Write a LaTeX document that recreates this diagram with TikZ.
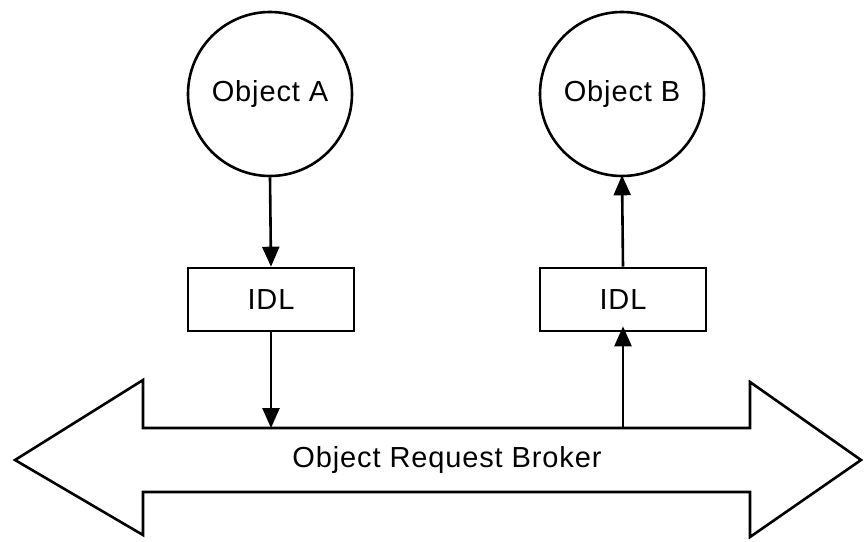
\documentclass[tikz,border=0pt]{standalone}
\usepackage{fontspec}
\setmainfont{Liberation Sans}[LetterSpace=3]
\usetikzlibrary{arrows.meta}
\begin{document}
\begin{tikzpicture}[x=1pt,y=-1pt,
  every node/.style={font=\fontsize{29}{34}\selectfont},
  objcircle/.style={draw,line width=2.6pt,circle,minimum size=164pt,inner sep=0pt},
  idlbox/.style={draw,line width=2.6pt,rectangle,minimum width=166pt,minimum height=63pt,inner sep=0pt},
  conn/.style={line width=2.6pt,-{Triangle[width=17pt,length=20pt]}}
]
\useasboundingbox (0,0) rectangle (865,541);
% double arrow (Object Request Broker)
\draw[line width=2.6pt,line join=miter]
  (15,460) -- (143,380) -- (143,428) -- (750,428) -- (750,382) -- (861,460)
  -- (750,537) -- (750,492) -- (143,492) -- (143,535) -- cycle;
\node[anchor=base] (orb) at (447,467) {Object Request Broker};
\coordinate (orbA) at (271,428);
\coordinate (orbB) at (623,428);
% objects
\node[objcircle] (objA) at (270,94) {Object A};
\node[objcircle] (objB) at (622,94) {Object B};
% IDL boxes
\node[idlbox] (idlA) at (271,299.5) {IDL};
\node[idlbox] (idlB) at (623,299.5) {IDL};
% connectors
\draw[conn] (objA.south) -- (idlA.north);
\draw[conn] (idlA.south) -- (orbA);
\draw[conn] (orbB) -- ([yshift=6pt]idlB.south);
\draw[conn] (idlB.north) -- ([yshift=2pt]objB.south);
\end{tikzpicture}
\end{document}
